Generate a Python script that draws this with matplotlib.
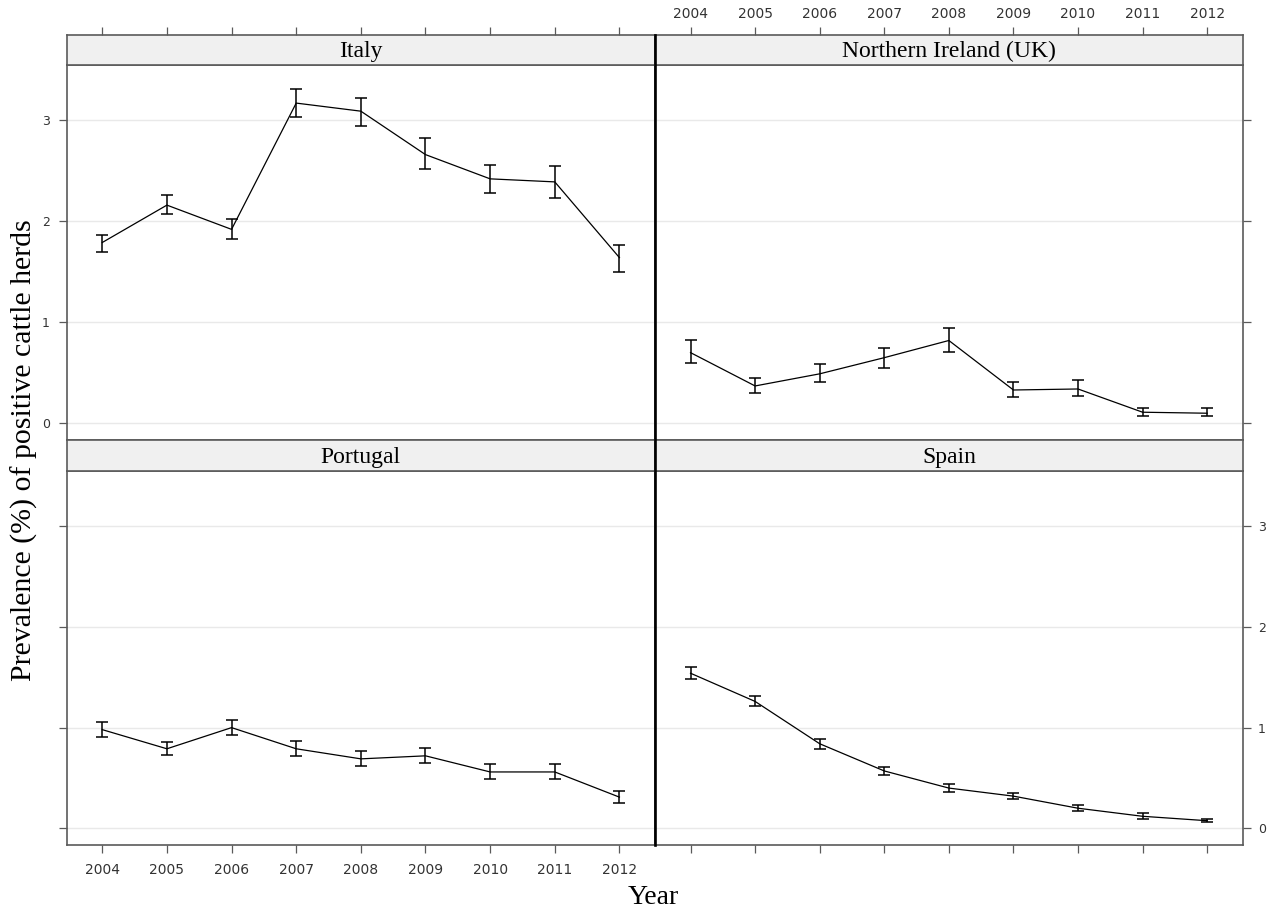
import matplotlib
matplotlib.use("Agg")
import matplotlib.pyplot as plt
import numpy as np
from matplotlib.lines import Line2D

years = [2004, 2005, 2006, 2007, 2008, 2009, 2010, 2011, 2012]

italy_mean = [1.79, 2.16, 1.92, 3.17, 3.09, 2.66, 2.42, 2.39, 1.64]
italy_lo = [1.70, 2.07, 1.82, 3.03, 2.94, 2.52, 2.28, 2.23, 1.50]
italy_hi = [1.86, 2.26, 2.02, 3.31, 3.22, 2.82, 2.56, 2.55, 1.77]

ni_mean = [0.70, 0.37, 0.49, 0.65, 0.82, 0.33, 0.34, 0.11, 0.10]
ni_lo = [0.60, 0.30, 0.41, 0.55, 0.71, 0.26, 0.27, 0.07, 0.07]
ni_hi = [0.82, 0.45, 0.59, 0.75, 0.94, 0.41, 0.43, 0.155, 0.15]

pt_mean = [0.98, 0.79, 1.00, 0.79, 0.69, 0.72, 0.56, 0.56, 0.31]
pt_lo = [0.906, 0.727, 0.926, 0.714, 0.618, 0.648, 0.486, 0.486, 0.248]
pt_hi = [1.055, 0.856, 1.075, 0.866, 0.767, 0.797, 0.638, 0.638, 0.37]

es_mean = [1.54, 1.26, 0.84, 0.57, 0.40, 0.32, 0.20, 0.12, 0.076]
es_lo = [1.48, 1.21, 0.79, 0.53, 0.364, 0.29, 0.169, 0.096, 0.06]
es_hi = [1.60, 1.31, 0.886, 0.605, 0.44, 0.35, 0.228, 0.149, 0.093]

countries = ["Italy", "Northern Ireland (UK)", "Portugal", "Spain"]
y_ticks = [0, 1, 2, 3]

W, H = 1268, 915
fig = plt.figure(figsize=(W / 100, H / 100), dpi=100)

FRAME = "#5a5a5a"
STRIP = "#f0f0f0"
GRID = "#e9e9e9"
XLIM = (2003.45, 2012.55)
YLIM = (-0.165, 3.552)
SERIF = ["Liberation Serif", "DejaVu Serif"]


def px_rect(x0, y0, x1, y1):
    return [x0 / W, 1 - y1 / H, (x1 - x0) / W, (y1 - y0) / H]


cols = [(66.7, 655), (655, 1242.7)]
rows = [((35, 64.5), (64.5, 440)), ((440.5, 470.5), (470.5, 845))]

data = [
    (italy_mean, italy_lo, italy_hi),
    (ni_mean, ni_lo, ni_hi),
    (pt_mean, pt_lo, pt_hi),
    (es_mean, es_lo, es_hi),
]


def style_frame(ax):
    for s in ax.spines.values():
        s.set_color(FRAME)
        s.set_linewidth(1.2)


for i in range(4):
    r, c = divmod(i, 2)
    (sy0, sy1), (py0, py1) = rows[r]
    x0, x1 = cols[c]
    ax = fig.add_axes(px_rect(x0, py0, x1, py1))
    sax = fig.add_axes(px_rect(x0, sy0, x1, sy1))
    mean, lo, hi = data[i]
    mean = np.array(mean)
    lo = np.array(lo)
    hi = np.array(hi)
    ax.set_xlim(*XLIM)
    ax.set_ylim(*YLIM)
    for yt in y_ticks:
        ax.axhline(yt, color=GRID, lw=1.0, zorder=0)
    ax.errorbar(years, mean, yerr=[mean - lo, hi - mean], fmt="-", color="black",
                lw=0.9, elinewidth=1.1, capsize=4.5, capthick=1.1, zorder=3)
    style_frame(ax)
    ax.set_xticks(years)
    ax.set_yticks(y_ticks)
    ax.tick_params(axis="both", direction="out", length=6, width=0.9, color=FRAME,
                   labelsize=10, labelcolor="#333333")
    ax.tick_params(axis="y", labelsize=9)
    if r == 1:
        ax.tick_params(axis="x", bottom=True, top=False, labelbottom=(c == 0), labeltop=False, pad=7)
    else:
        ax.tick_params(axis="x", bottom=False, top=False, labelbottom=False, labeltop=False)
    if c == 0:
        ax.tick_params(axis="y", left=True, right=False, labelleft=(r == 0), labelright=False, pad=6)
    else:
        ax.tick_params(axis="y", left=False, right=True, labelleft=False, labelright=(r == 1), pad=5)
    sax.set_facecolor(STRIP)
    sax.set_xlim(*XLIM)
    sax.set_ylim(0, 1)
    style_frame(sax)
    sax.set_yticks([])
    sax.set_xticks(years)
    if r == 0:
        sax.tick_params(axis="x", bottom=False, labelbottom=False, top=True,
                        labeltop=(c == 1), direction="out", length=6, width=0.9,
                        color=FRAME, labelsize=10, labelcolor="#333333", pad=4)
    else:
        sax.tick_params(axis="x", bottom=False, labelbottom=False, top=False, labeltop=False)
    sax.text(0.5, 0.45, countries[i], transform=sax.transAxes, ha="center", va="center",
             fontsize=17, family=SERIF, color="black")

fig.add_artist(Line2D([655 / W, 655 / W], [1 - 845 / H, 1 - 35 / H], color="black",
                      lw=1.9, transform=fig.transFigure, zorder=10))

fig.text(653 / W, 1 - 897 / H, "Year", ha="center", va="center", fontsize=20, family=SERIF)
fig.text(24 / W, 1 - 450 / H, "Prevalence (%) of positive cattle herds", ha="center",
         va="center", rotation=90, fontsize=21.5, family=SERIF)

fig.savefig("out.png", dpi=100, facecolor="white")
